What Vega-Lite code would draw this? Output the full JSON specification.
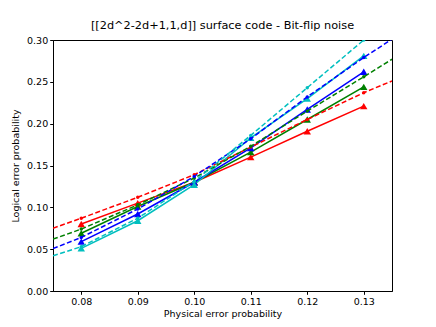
{
  "$schema": "https://vega.github.io/schema/vega-lite/v6.json",
  "width": 339,
  "height": 251,
  "autosize": {"type": "none"},
  "padding": {"left": 53, "top": 40, "right": 44, "bottom": 36},
  "background": "white",
  "config": {
    "font": "DejaVu Sans",
    "view": {"stroke": "black", "strokeWidth": 1},
    "axis": {
      "grid": false,
      "domainColor": "black",
      "tickColor": "black",
      "labelColor": "black",
      "titleColor": "black",
      "labelFont": "DejaVu Sans",
      "titleFont": "DejaVu Sans",
      "labelFontSize": 9.5,
      "titleFontSize": 9.5,
      "titleFontWeight": "normal",
      "tickSize": 3.3,
      "labelPadding": 2
    },
    "title": {"font": "DejaVu Sans", "fontSize": 11.3, "fontWeight": "normal", "color": "black", "offset": 4}
  },
  "title": "[[2d^2-2d+1,1,d]] surface code - Bit-flip noise",
  "datasets": {
    "sim": [
      {"p": 0.08, "v": 0.080, "s": "d=3"},
      {"p": 0.09, "v": 0.105, "s": "d=3"},
      {"p": 0.10, "v": 0.130, "s": "d=3"},
      {"p": 0.11, "v": 0.160, "s": "d=3"},
      {"p": 0.12, "v": 0.191, "s": "d=3"},
      {"p": 0.13, "v": 0.221, "s": "d=3"},
      {"p": 0.08, "v": 0.069, "s": "d=5"},
      {"p": 0.09, "v": 0.101, "s": "d=5"},
      {"p": 0.10, "v": 0.130, "s": "d=5"},
      {"p": 0.11, "v": 0.166, "s": "d=5"},
      {"p": 0.12, "v": 0.205, "s": "d=5"},
      {"p": 0.13, "v": 0.244, "s": "d=5"},
      {"p": 0.08, "v": 0.059, "s": "d=7"},
      {"p": 0.09, "v": 0.092, "s": "d=7"},
      {"p": 0.10, "v": 0.130, "s": "d=7"},
      {"p": 0.11, "v": 0.171, "s": "d=7"},
      {"p": 0.12, "v": 0.217, "s": "d=7"},
      {"p": 0.13, "v": 0.262, "s": "d=7"},
      {"p": 0.08, "v": 0.051, "s": "d=9"},
      {"p": 0.09, "v": 0.084, "s": "d=9"},
      {"p": 0.10, "v": 0.127, "s": "d=9"},
      {"p": 0.11, "v": 0.183, "s": "d=9"},
      {"p": 0.12, "v": 0.230, "s": "d=9"},
      {"p": 0.13, "v": 0.281, "s": "d=9"}
    ],
    "fit": [
      {"p": 0.075, "v": 0.075, "s": "d=3", "dot": false},
      {"p": 0.08, "v": 0.087, "s": "d=3", "dot": true},
      {"p": 0.09, "v": 0.112, "s": "d=3", "dot": true},
      {"p": 0.10, "v": 0.139, "s": "d=3", "dot": true},
      {"p": 0.11, "v": 0.172, "s": "d=3", "dot": true},
      {"p": 0.12, "v": 0.205, "s": "d=3", "dot": true},
      {"p": 0.13, "v": 0.237, "s": "d=3", "dot": true},
      {"p": 0.135, "v": 0.251, "s": "d=3", "dot": false},
      {"p": 0.075, "v": 0.062, "s": "d=5", "dot": false},
      {"p": 0.08, "v": 0.074, "s": "d=5", "dot": true},
      {"p": 0.09, "v": 0.103, "s": "d=5", "dot": true},
      {"p": 0.10, "v": 0.135, "s": "d=5", "dot": true},
      {"p": 0.11, "v": 0.173, "s": "d=5", "dot": true},
      {"p": 0.12, "v": 0.215, "s": "d=5", "dot": true},
      {"p": 0.13, "v": 0.256, "s": "d=5", "dot": true},
      {"p": 0.135, "v": 0.277, "s": "d=5", "dot": false},
      {"p": 0.075, "v": 0.0506, "s": "d=7", "dot": false},
      {"p": 0.08, "v": 0.064, "s": "d=7", "dot": true},
      {"p": 0.09, "v": 0.098, "s": "d=7", "dot": true},
      {"p": 0.10, "v": 0.137, "s": "d=7", "dot": true},
      {"p": 0.11, "v": 0.182, "s": "d=7", "dot": true},
      {"p": 0.12, "v": 0.232, "s": "d=7", "dot": true},
      {"p": 0.13, "v": 0.279, "s": "d=7", "dot": true},
      {"p": 0.135, "v": 0.301, "s": "d=7", "dot": false},
      {"p": 0.075, "v": 0.042, "s": "d=9", "dot": false},
      {"p": 0.08, "v": 0.053, "s": "d=9", "dot": true},
      {"p": 0.09, "v": 0.087, "s": "d=9", "dot": true},
      {"p": 0.10, "v": 0.131, "s": "d=9", "dot": true},
      {"p": 0.11, "v": 0.186, "s": "d=9", "dot": true},
      {"p": 0.12, "v": 0.243, "s": "d=9", "dot": true},
      {"p": 0.13, "v": 0.300, "s": "d=9", "dot": true},
      {"p": 0.135, "v": 0.328, "s": "d=9", "dot": false}
    ]
  },
  "encoding": {
    "x": {
      "field": "p", "type": "quantitative",
      "scale": {"domain": [0.075, 0.135], "nice": false, "zero": false},
      "axis": {"values": [0.08, 0.09, 0.10, 0.11, 0.12, 0.13], "format": ".2f", "title": "Physical error probability", "titlePadding": 3}
    },
    "y": {
      "field": "v", "type": "quantitative",
      "scale": {"domain": [0, 0.3], "nice": false},
      "axis": {"values": [0, 0.05, 0.1, 0.15, 0.2, 0.25, 0.3], "format": ".2f", "title": "Logical error probability", "titlePadding": 6}
    },
    "color": {
      "field": "s", "type": "nominal",
      "scale": {"domain": ["d=3", "d=5", "d=7", "d=9"], "range": ["#ff0000", "#008000", "#0000ff", "#00bfbf"]},
      "legend": null
    }
  },
  "layer": [
    {
      "data": {"name": "sim"},
      "mark": {"type": "line", "strokeWidth": 1.5, "clip": true}
    },
    {
      "data": {"name": "sim"},
      "mark": {"type": "point", "shape": "triangle-up", "filled": true, "opacity": 1, "size": 55, "clip": true}
    },
    {
      "data": {"name": "fit"},
      "mark": {"type": "line", "strokeWidth": 1.5, "strokeDash": [5, 2.5], "clip": true}
    },
    {
      "data": {"name": "fit"},
      "transform": [{"filter": "datum.dot"}],
      "mark": {"type": "point", "shape": "circle", "filled": true, "opacity": 1, "size": 12, "clip": true}
    }
  ]
}
